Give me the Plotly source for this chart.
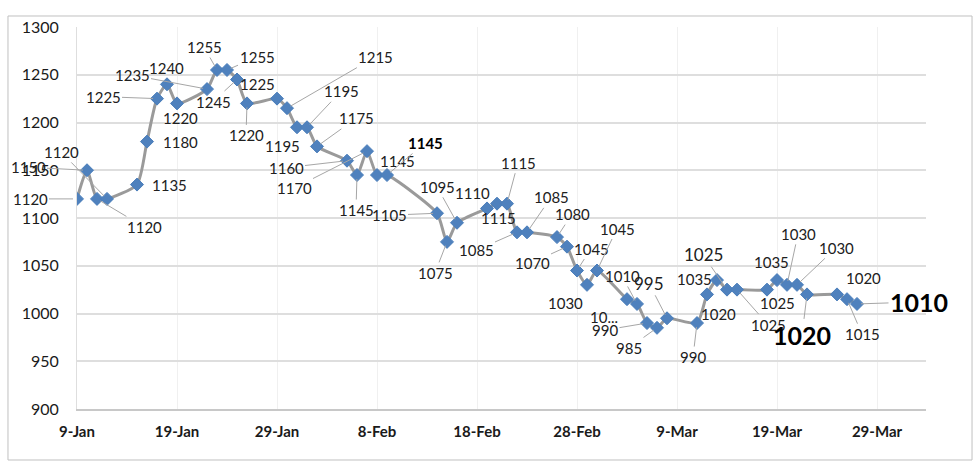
import pandas as pd
import plotly.graph_objects as go

# ---- data ----
dates = ["2024-01-09", "2024-01-10", "2024-01-11", "2024-01-12",
         "2024-01-15", "2024-01-16", "2024-01-17", "2024-01-18", "2024-01-19",
         "2024-01-22", "2024-01-23", "2024-01-24", "2024-01-25", "2024-01-26",
         "2024-01-29", "2024-01-30", "2024-01-31", "2024-02-01", "2024-02-02",
         "2024-02-05", "2024-02-06", "2024-02-07", "2024-02-08", "2024-02-09",
         "2024-02-14", "2024-02-15", "2024-02-16",
         "2024-02-19", "2024-02-20", "2024-02-21", "2024-02-22", "2024-02-23",
         "2024-02-26", "2024-02-27", "2024-02-28", "2024-02-29", "2024-03-01",
         "2024-03-04", "2024-03-05", "2024-03-06", "2024-03-07", "2024-03-08",
         "2024-03-11", "2024-03-12", "2024-03-13", "2024-03-14", "2024-03-15",
         "2024-03-18", "2024-03-19", "2024-03-20", "2024-03-21", "2024-03-22",
         "2024-03-25", "2024-03-26", "2024-03-27"]
prices = [1120, 1150, 1120, 1120,
          1135, 1180, 1225, 1240, 1220,
          1235, 1255, 1255, 1245, 1220,
          1225, 1215, 1195, 1195, 1175,
          1160, 1145, 1170, 1145, 1145,
          1105, 1075, 1095,
          1110, 1115, 1115, 1085, 1085,
          1080, 1070, 1045, 1030, 1045,
          1015, 1010, 990, 985, 995,
          990, 1020, 1035, 1025, 1025,
          1025, 1035, 1030, 1030, 1020,
          1020, 1015, 1010]
y_ticks = [900, 950, 1000, 1050, 1100, 1150, 1200, 1250, 1300]
label_text_override = {37: "10..."}

# ---- label placement (pixel offsets from point, leader line flag) ----
label_pos = [(-47, 0, 1), (-59, -3, 1), (47, 28, 1), (-46, -47, 1),
             (32, 0, 0), (33, 0, 0), (-54, -2, 1), (-1, -16, 0), (3, 15, 0),
             (-75, -14, 1), (-13, -23, 1), (30, -13, 1), (-24, 22, 1), (-1, 32, 1),
             (-20, -15, 0), (88, -51, 1), (-15, 19, 0), (34, -36, 1), (39, -28, 1),
             (-61, 7, 1), (-1, 35, 1), (-73, 37, 1), (20, -14, 0), (38, -32, 1),
             (-48, 2, 1), (-12, 31, 1), (-20, -36, 1),
             (-15, -15, 0), (1, 14, 0), (11, -41, 1), (-41, 18, 1), (24, -35, 1),
             (15, -23, 1), (-35, 16, 1), (14, -22, 1), (-22, 18, 0), (20, -42, 1),
             (-23, 18, 0), (-15, -28, 1), (-42, 7, 1), (-28, 20, 1), (-18, -35, 1),
             (-4, 34, 1), (11, 20, 0), (-23, -1, 0), (-24, -35, 1), (31, 35, 1),
             (10, 13, 0), (-6, -18, 0), (11, -51, 1), (39, -37, 1), (-5, 41, 1),
             (26, -16, 0), (15, 35, 1), (62, -2, 1)]
label_style = {23: (15, True), 41: (17, False), 45: (17, False),
               51: (25, True), 54: (25, True)}

FONT = "Lato"
fig = go.Figure()
fig.add_trace(go.Scatter(
    x=dates, y=prices, mode="lines+markers",
    line=dict(color="#9a9a9a", width=3, shape="spline", smoothing=0.6),
    marker=dict(symbol="diamond", size=10, color="#4f81bd",
                line=dict(color="#4a7ebb", width=1)),
    hoverinfo="x+y", showlegend=False))

annotations = []
for i, (d, v) in enumerate(zip(dates, prices)):
    dx, dy, leader = label_pos[i]
    size, bold = label_style.get(i, (15, False))
    txt = label_text_override.get(i, str(v))
    font = dict(family=FONT, size=size, color="#000000" if bold else "#202020",
                weight="bold" if bold else "normal")
    if leader:
        annotations.append(dict(x=d, y=v, xref="x", yref="y", text=txt,
                                showarrow=True, ax=dx, ay=dy, arrowhead=0,
                                arrowwidth=1, arrowcolor="#a6a6a6", standoff=4,
                                font=font))
    else:
        annotations.append(dict(x=d, y=v, xref="x", yref="y", text=txt,
                                showarrow=False, xshift=dx, yshift=-dy,
                                font=font))

start = pd.Timestamp("2024-01-09")
end = start + pd.Timedelta(days=84.9)

fig.update_layout(
    width=980, height=467,
    margin=dict(l=77, r=54, t=27, b=58),
    paper_bgcolor="white", plot_bgcolor="white",
    annotations=annotations,
    shapes=[dict(type="rect", xref="paper", yref="paper",
                 x0=-0.0813, x1=1.0542, y0=-0.1335, y1=1.0288,
                 line=dict(color="#c0c0c0", width=1), layer="below")],
)
fig.update_xaxes(
    type="date", range=[start, end],
    tick0="2024-01-09", dtick=10 * 24 * 3600 * 1000, tickformat="%-d-%b",
    showgrid=True, gridcolor="#f0f0f0", gridwidth=1,
    showline=True, linecolor="#c8c8c8", linewidth=1.5,
    ticks="", ticklabelstandoff=8,
    tickfont=dict(family=FONT, size=15, color="#1a1a1a", weight="bold"),
    zeroline=False)
fig.update_yaxes(
    range=[900, 1300], tickvals=y_ticks,
    showgrid=True, gridcolor="#dedede", gridwidth=1.5,
    showline=True, linecolor="#dedede", linewidth=1,
    ticks="", ticklabelstandoff=14,
    tickfont=dict(family=FONT, size=16, color="#1a1a1a"),
    zeroline=False)

fig.write_html("out.html")
